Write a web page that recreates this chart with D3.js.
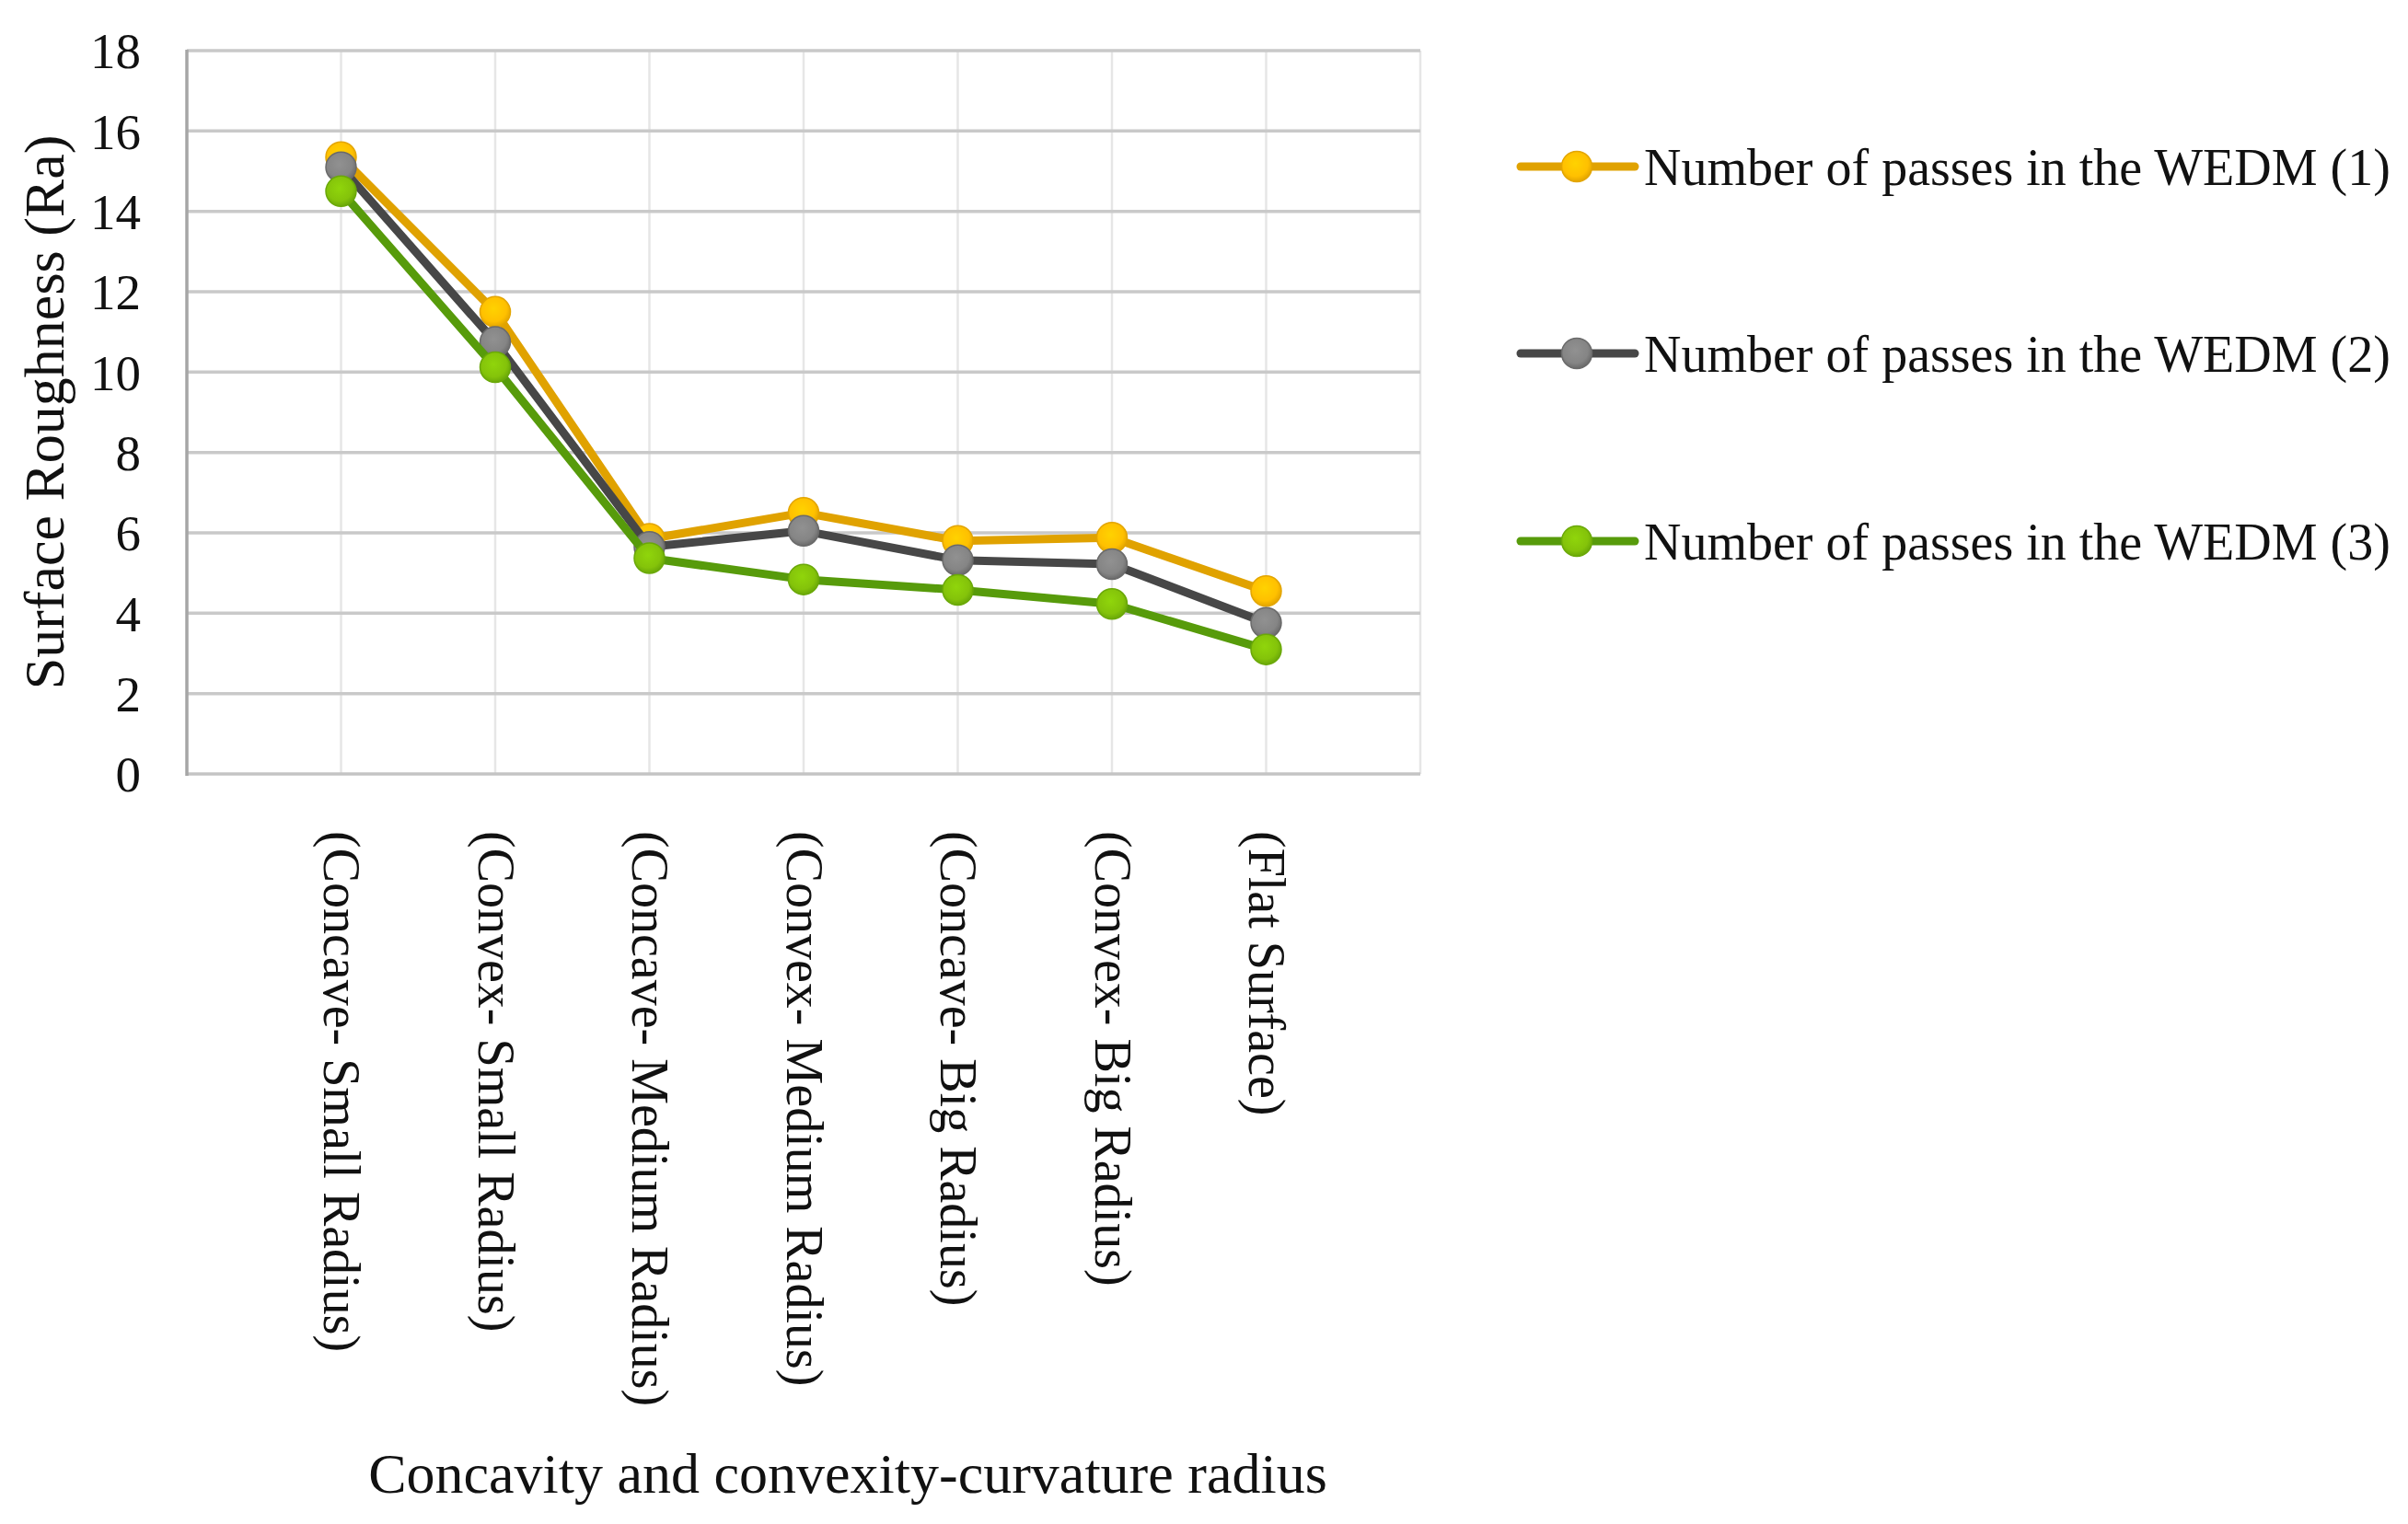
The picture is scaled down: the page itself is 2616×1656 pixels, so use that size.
<!DOCTYPE html>
<html>
<head>
<meta charset="utf-8">
<script src="https://cdn.jsdelivr.net/npm/d3@7"></script>
<style>
  html, body { margin: 0; padding: 0; background: #ffffff; }
  svg { display: block; }
  text { font-family: "Liberation Serif", "Times New Roman", serif; fill: #111; }
</style>
</head>
<body>
<svg id="chart" width="2616" height="1656"></svg>
<script>
// ---- data ----
const categories = [
  "(Concave- Small Radius)",
  "(Convex- Small Radius)",
  "(Concave- Medium Radius)",
  "(Convex- Medium Radius)",
  "(Concave- Big Radius)",
  "(Convex- Big Radius)",
  "(Flat Surface)"
];
const seriesNames = [
  "Number of passes in the WEDM (1)",
  "Number of passes in the WEDM (2)",
  "Number of passes in the WEDM (3)"
];
const pass1 = [15.35, 11.5, 5.85, 6.5, 5.8, 5.88, 4.55];
const pass2 = [15.1, 10.75, 5.65, 6.05, 5.32, 5.22, 3.76];
const pass3 = [14.5, 10.12, 5.37, 4.84, 4.58, 4.23, 3.1];
const yTicks = [0, 2, 4, 6, 8, 10, 12, 14, 16, 18];
const yTitle = "Surface Roughness (Ra)";
const xTitle = "Concavity and convexity-curvature radius";

const seriesValues = [pass1, pass2, pass3];
const lineColors = ["#E0A200", "#474747", "#579B0B"];
const markerFill = ["#FFC000", "#858585", "#84C30A"];
const markerEdge = ["#E3A500", "#6A6A6A", "#6AA808"];

// ---- layout ----
const svg = d3.select("#chart");
const plot = { left: 203, right: 1543, top: 55, bottom: 841 };

const x = d3.scaleLinear().domain([0, categories.length + 1]).range([plot.left, plot.right]);
const y = d3.scaleLinear().domain([0, 18]).range([plot.bottom, plot.top]);

// gradients for markers
const defs = svg.append("defs");
markerFill.forEach((c, i) => {
  const g = defs.append("radialGradient").attr("id", "mg" + i)
    .attr("cx", "45%").attr("cy", "40%").attr("r", "60%");
  g.append("stop").attr("offset", "0%").attr("stop-color", d3.color(c).brighter(0.25));
  g.append("stop").attr("offset", "70%").attr("stop-color", c);
  g.append("stop").attr("offset", "100%").attr("stop-color", markerEdge[i]);
});

// vertical gridlines (light)
const vIdx = d3.range(1, categories.length + 2);
svg.append("g").selectAll("line").data(vIdx).join("line")
  .attr("x1", d => x(d)).attr("x2", d => x(d))
  .attr("y1", plot.top).attr("y2", plot.bottom)
  .attr("stroke", "#e6e6e6").attr("stroke-width", 2.5);

// horizontal gridlines
svg.append("g").selectAll("line").data(yTicks.filter(t => t > 0)).join("line")
  .attr("x1", plot.left).attr("x2", plot.right)
  .attr("y1", d => y(d)).attr("y2", d => y(d))
  .attr("stroke", "#c9c9c9").attr("stroke-width", 3.5);

// x axis line
svg.append("line")
  .attr("x1", plot.left).attr("x2", plot.right)
  .attr("y1", y(0)).attr("y2", y(0))
  .attr("stroke", "#c4c4c4").attr("stroke-width", 3.5);

// y axis line
svg.append("line")
  .attr("x1", plot.left).attr("x2", plot.left)
  .attr("y1", plot.top - 1).attr("y2", plot.bottom + 2)
  .attr("stroke", "#a6a6a6").attr("stroke-width", 3.5);

// y tick labels
svg.append("g").selectAll("text").data(yTicks).join("text")
  .attr("x", 153).attr("y", d => y(d))
  .attr("dy", "0.35em")
  .attr("text-anchor", "end")
  .attr("font-size", 55)
  .text(d => d);

// category labels (rotated)
svg.append("g").selectAll("text").data(categories).join("text")
  .attr("transform", (d, i) => `translate(${x(i + 1)},903) rotate(90)`)
  .attr("dy", "0.33em")
  .attr("text-anchor", "start")
  .attr("font-size", 56)
  .text(d => d);

// axis titles
svg.append("text")
  .attr("transform", `translate(47,${(plot.top + plot.bottom) / 2}) rotate(-90)`)
  .attr("dy", "0.35em")
  .attr("text-anchor", "middle")
  .attr("font-size", 62)
  .text(yTitle);

svg.append("text")
  .attr("x", 921).attr("y", 1622)
  .attr("text-anchor", "middle")
  .attr("font-size", 62)
  .text(xTitle);

// series
const line = d3.line().x((d, i) => x(i + 1)).y(d => y(d));
seriesValues.forEach((vals, s) => {
  const g = svg.append("g");
  g.append("path").datum(vals)
    .attr("d", line)
    .attr("fill", "none")
    .attr("stroke", lineColors[s])
    .attr("stroke-width", 9)
    .attr("stroke-linejoin", "round")
    .attr("stroke-linecap", "round");
  g.selectAll("circle").data(vals).join("circle")
    .attr("cx", (d, i) => x(i + 1))
    .attr("cy", d => y(d))
    .attr("r", 16.5)
    .attr("fill", `url(#mg${s})`)
    .attr("stroke", markerEdge[s])
    .attr("stroke-width", 1.5);
});

// legend
const legendRows = [181, 384, 588];
const lg = svg.append("g");
seriesNames.forEach((name, s) => {
  const yy = legendRows[s];
  lg.append("line")
    .attr("x1", 1652).attr("x2", 1776)
    .attr("y1", yy).attr("y2", yy)
    .attr("stroke", lineColors[s]).attr("stroke-width", 9)
    .attr("stroke-linecap", "round");
  lg.append("circle")
    .attr("cx", 1713).attr("cy", yy).attr("r", 16.5)
    .attr("fill", `url(#mg${s})`)
    .attr("stroke", markerEdge[s]).attr("stroke-width", 1.5);
  lg.append("text")
    .attr("x", 1786).attr("y", yy)
    .attr("dy", "0.35em")
    .attr("font-size", 56)
    .text(name);
});
</script>
</body>
</html>
